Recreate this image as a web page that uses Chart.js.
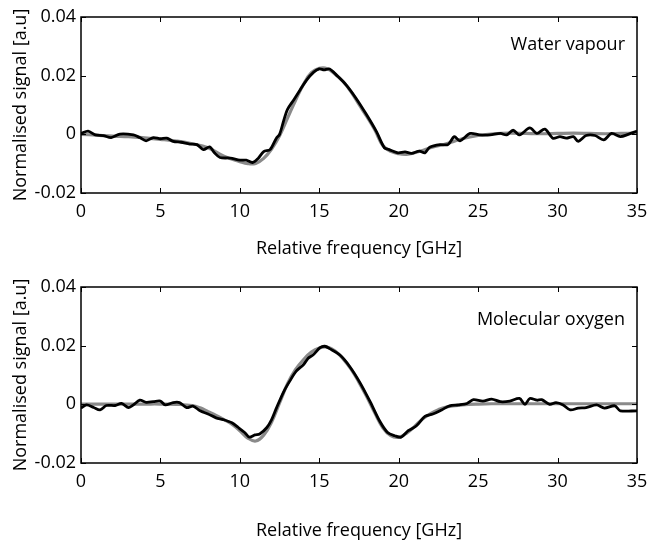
<!DOCTYPE html>
<html>
<head>
<meta charset="utf-8">
<script src="https://cdn.jsdelivr.net/npm/chart.js@4"></script>
<style>
  body { margin: 0; background: #fff; }
  #wrap { position: relative; width: 660px; height: 543px; }
  canvas { position: absolute; left: 0; }
</style>
</head>
<body>
<div id="wrap">
  <canvas id="water" width="660" height="270" style="top:0"></canvas>
  <canvas id="oxygen" width="660" height="273" style="top:270px"></canvas>
</div>
<script>
// ======================
// DATA
// ======================
const xTicks = [0, 5, 10, 15, 20, 25, 30, 35];
const yTicks = [-0.02, 0, 0.02, 0.04];
const yTickLabels = ["-0.02", "0", "0.02", "0.04"];

// water vapour - measured (black)
const waterFreq = [0, 0.45, 0.9, 1.4, 1.9, 2.45, 3.3, 3.7, 4.1, 4.55, 5.0, 5.4, 5.8, 6.3, 6.85, 7.3, 7.7, 8.1, 8.4, 8.75,
  9.4, 10.0, 10.4, 10.8, 11.15, 11.5, 11.9, 12.3, 12.5, 12.75, 13.0, 13.4, 13.8, 14.2, 14.65, 15.0, 15.3, 15.65,
  16.1, 16.7, 17.3, 17.95, 18.6, 19.1, 19.4, 19.95, 20.4, 20.8, 21.3, 21.65, 21.95, 22.6, 23.1, 23.5, 23.85, 24.5,
  25.1, 25.75, 26.4, 26.8, 27.2, 27.6, 28.25, 28.7, 29.2, 29.7, 30.15, 30.55, 31.0, 31.3, 31.8, 32.35, 32.9, 33.4,
  33.95, 34.45, 35];
const waterMeasured = [0.0003, 0.0011, -0.0002, -0.0004, -0.0011, 0.0001, -0.0002, -0.0011, -0.0022, -0.0011, -0.0015, -0.0013, -0.0024, -0.0027, -0.0033, -0.0035, -0.0052, -0.0043, -0.0063, -0.0079,
  -0.0081, -0.0088, -0.0088, -0.0096, -0.0082, -0.0059, -0.0052, -0.0013, 0.0, 0.0045, 0.0085, 0.0118, 0.0152, 0.0185, 0.0212, 0.0223, 0.0220, 0.0223,
  0.0201, 0.0168, 0.0124, 0.0069, 0.0009, -0.0046, -0.0052, -0.0063, -0.0060, -0.0065, -0.0057, -0.0063, -0.0044, -0.0035, -0.0035, -0.0008, -0.0022, 0.0003,
  -0.0002, -0.0002, 0.0003, -0.0002, 0.0014, -0.0002, 0.0022, 0.0003, 0.0018, -0.0013, -0.0008, -0.0013, -0.0008, -0.0024, -0.0004, -0.0004, -0.0019, 0.0003,
  -0.0008, 0.0000, 0.0011];

// water vapour - model (grey)
const waterModelFreq = [0, 1, 2, 3, 4, 5, 6, 7, 8, 9, 10, 10.5, 11, 11.5, 12, 12.5, 13, 13.5, 14, 14.5, 15, 15.5, 16, 16.5,
  17, 17.5, 18, 18.5, 19, 19.5, 20, 20.5, 21, 21.5, 22, 23, 24, 25, 26, 27, 28, 29, 30, 31, 32, 33, 34, 35];
const waterModel = [0, -0.0003, -0.0006, -0.0008, -0.0012, -0.0017, -0.0023, -0.0032, -0.0046, -0.0075, -0.0093, -0.0100, -0.0099, -0.0082, -0.0050, -0.0005, 0.0055, 0.0115, 0.0170, 0.0210, 0.0225, 0.0224, 0.0205, 0.0180,
  0.0145, 0.0102, 0.0060, 0.0015, -0.0038, -0.0058, -0.0066, -0.0068, -0.0063, -0.0055, -0.0046, -0.0032, -0.0015, -0.0004, 0.0002, 0.0004, 0.0003, 0.0002, 0.0003, 0.0004, 0.0003, 0.0002, 0.0003, 0.0004];

// molecular oxygen - measured (black)
const oxygenFreq = [0, 0.35, 0.8, 1.2, 1.6, 2.15, 2.55, 3.0, 3.3, 3.7, 4.1, 4.55, 5.0, 5.3, 5.8, 6.2, 6.65, 7.05, 7.5, 8.0,
  8.5, 8.95, 9.5, 9.9, 10.3, 10.6, 10.95, 11.25, 11.7, 12.0, 12.3, 12.75, 13.15, 13.55, 14.0, 14.3, 14.6, 15.05, 15.35,
  15.65, 16.3, 16.9, 17.55, 18.2, 18.8, 19.3, 19.75, 20.15, 20.6, 21.1, 21.65, 22.15, 22.7, 23.2, 23.75, 24.3, 24.7,
  25.3, 25.85, 26.4, 27.0, 27.6, 27.95, 28.25, 28.7, 29.0, 29.5, 29.9, 30.35, 30.8, 31.3, 31.8, 32.45, 32.95, 33.6,
  33.95, 35];
const oxygenMeasured = [-0.0013, -0.0002, -0.0011, -0.0019, -0.0004, -0.0004, 0.0003, -0.0011, -0.0002, 0.0014, 0.0007, 0.0009, 0.0011, -0.0002, 0.0006, 0.0006, -0.0011, -0.0006, -0.0022, -0.0033,
  -0.0046, -0.0052, -0.0063, -0.0079, -0.0096, -0.0112, -0.0104, -0.0101, -0.0079, -0.0052, -0.0013, 0.0042, 0.0080, 0.0113, 0.0135, 0.0157, 0.0168, 0.0193, 0.0198,
  0.0190, 0.0168, 0.0130, 0.0075, 0.0009, -0.0057, -0.0096, -0.0107, -0.0112, -0.0090, -0.0074, -0.0041, -0.0033, -0.0019, -0.0005, -0.0002, 0.0003, 0.0016,
  0.0011, 0.0018, 0.0009, 0.0011, 0.0020, 0.0000, 0.0020, 0.0014, 0.0016, 0.0000, 0.0006, -0.0002, -0.0019, -0.0013, -0.0011, -0.0002, -0.0013, -0.0005,
  -0.0022, -0.0022];

// molecular oxygen - model (grey)
const oxygenModelFreq = [0, 1, 2, 3, 4, 5, 6, 7, 7.5, 8, 8.5, 9, 9.5, 10, 10.5, 11, 11.5, 12, 12.5, 13, 13.5, 14, 14.5, 15, 15.5,
  16, 16.5, 17, 17.5, 18, 18.5, 19, 19.5, 20, 20.5, 21, 21.5, 22, 22.5, 23, 24, 25, 26, 27, 28, 29, 30, 31, 32, 33, 34, 35];
const oxygenModel = [0.0001, 0.0001, 0.0001, 0.0001, 0.0001, 0.0001, 0.0000, -0.0004, -0.0012, -0.0025, -0.0038, -0.0052, -0.0068, -0.0090, -0.0115, -0.0125, -0.0105, -0.0060, 0.0005, 0.0070, 0.0118, 0.0152, 0.0178, 0.0192, 0.0195,
  0.0182, 0.0155, 0.0120, 0.0075, 0.0025, -0.0030, -0.0080, -0.0107, -0.0112, -0.0098, -0.0075, -0.0050, -0.0032, -0.0018, -0.0009, -0.0002, 0.0001, 0.0002, 0.0002, 0.0002, 0.0002, 0.0002, 0.0002, 0.0002, 0.0002, 0.0002, 0.0002];

// ======================
// HELPERS
// ======================
const FONT = "'Open Sans', sans-serif";
const FSIZE = 18;
const pts = (xs, ys) => xs.map((x, i) => ({ x: x, y: ys[i] }));

// box round the plot + inward ticks on all four sides + corner label
const framePlugin = {
  id: "frame",
  afterDraw(chart, args, opts) {
    const { ctx, chartArea: a, scales } = chart;
    ctx.save();
    ctx.strokeStyle = "#000";
    ctx.lineWidth = 1.5;
    ctx.strokeRect(a.left, a.top, a.right - a.left, a.bottom - a.top);
    ctx.lineWidth = 1;
    const len = 5;
    xTicks.forEach(v => {
      const px = Math.round(scales.x.getPixelForValue(v)) + 0.5;
      ctx.beginPath();
      ctx.moveTo(px, a.bottom); ctx.lineTo(px, a.bottom - len);
      ctx.moveTo(px, a.top); ctx.lineTo(px, a.top + len);
      ctx.stroke();
    });
    yTicks.forEach(v => {
      const py = Math.round(scales.y.getPixelForValue(v)) + 0.5;
      ctx.beginPath();
      ctx.moveTo(a.left, py); ctx.lineTo(a.left + len, py);
      ctx.moveTo(a.right, py); ctx.lineTo(a.right - len, py);
      ctx.stroke();
    });
    ctx.fillStyle = "#000";
    ctx.font = FSIZE + "px " + FONT;
    ctx.textAlign = "right";
    ctx.textBaseline = "middle";
    ctx.fillText(opts.label, a.right - 12, a.top + opts.labelDy);
    ctx.restore();
  }
};

function makeChart(id, measured, model, label, labelDy, titleGap, xHeight) {
  return new Chart(document.getElementById(id), {
    type: "line",
    data: {
      datasets: [
        { data: measured, borderColor: "#000", borderWidth: 2.8, pointRadius: 0, tension: 0.3 },
        { data: model, borderColor: "#8a8a8a", borderWidth: 3.2, pointRadius: 0, tension: 0.4 }
      ]
    },
    options: {
      responsive: false,
      animation: false,
      layout: { padding: { left: 0, right: 23, top: 17, bottom: 0 } },
      plugins: {
        legend: { display: false },
        tooltip: { enabled: false },
        frame: { label: label, labelDy: labelDy }
      },
      scales: {
        x: {
          type: "linear", min: 0, max: 35,
          afterBuildTicks: s => { s.ticks = xTicks.map(v => ({ value: v })); },
          afterFit: s => { s.height = xHeight; },
          grid: { display: false, drawTicks: false },
          border: { display: false },
          ticks: { color: "#000", font: { family: FONT, size: FSIZE }, padding: 8, maxRotation: 0 },
          title: { display: true, text: "Relative frequency [GHz]", color: "#000",
                   font: { family: FONT, size: FSIZE }, padding: { bottom: titleGap } }
        },
        y: {
          min: -0.02, max: 0.04,
          afterBuildTicks: s => { s.ticks = yTicks.map(v => ({ value: v })); },
          afterFit: s => { s.width = 81; },
          grid: { display: false, drawTicks: false },
          border: { display: false },
          ticks: { color: "#000", font: { family: FONT, size: FSIZE }, padding: 5,
                   callback: (v) => yTickLabels[yTicks.indexOf(v)] },
          title: { display: true, text: "Normalised signal [a.u]", color: "#000",
                   font: { family: FONT, size: FSIZE }, padding: { top: 10 } }
        }
      }
    },
    plugins: [framePlugin]
  });
}

makeChart("water", pts(waterFreq, waterMeasured), pts(waterModelFreq, waterModel), "Water vapour", 28, 10, 77);
makeChart("oxygen", pts(oxygenFreq, oxygenMeasured), pts(oxygenModelFreq, oxygenModel), "Molecular oxygen", 33, 1, 80);
</script>
</body>
</html>
